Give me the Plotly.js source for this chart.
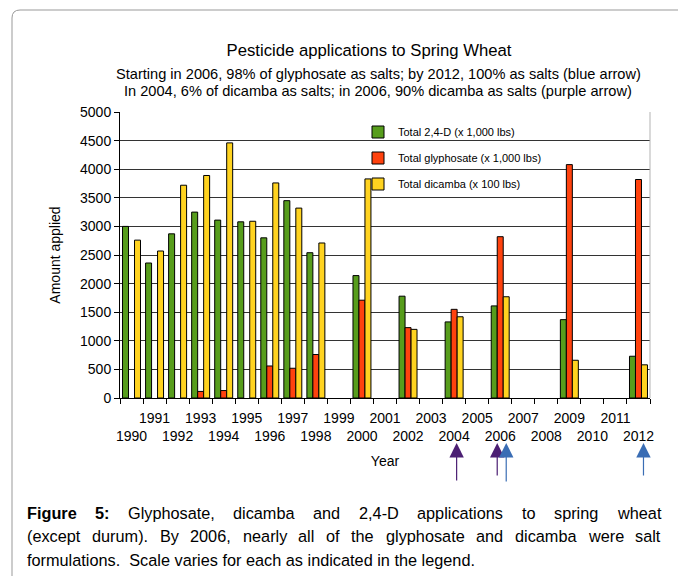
<!DOCTYPE html>
<html>
<head>
<meta charset="utf-8">
<script src="https://cdn.plot.ly/plotly-3.0.1.min.js"></script>
<style>
  html, body { margin: 0; padding: 0; background: #fff; }
  #chart { width: 678px; height: 576px; }
</style>
</head>
<body>
<div id="chart"></div>
<script>
// ---- data ----
const years = ['1990','1991','1992','1993','1994','1995','1996','1997','1998','1999','2000','2001',
               '2002','2003','2004','2005','2006','2007','2008','2009','2010','2011','2012'];
const total24D = [3000,2360,2870,3250,3110,3080,2800,3450,2540,null,2140,null,
                  1780,null,1330,null,1610,null,null,1370,null,null,730];
const totalGlyphosate = [null,null,null,115,130,null,560,520,760,null,1710,null,
                         1230,null,1550,null,2820,null,null,4080,null,null,3820];
const totalDicamba = [2760,2570,3720,3890,4460,3090,3760,3320,2710,null,3830,null,
                      1200,null,1420,null,1770,null,null,660,null,null,580];
const seriesNames = ['Total 2,4-D (x 1,000 lbs)', 'Total glyphosate (x 1,000 lbs)', 'Total dicamba (x 100 lbs)'];
const tickLabels = years.map(y => (parseInt(y) % 2 === 0) ? '<br>' + y : y);

const titleText = 'Pesticide applications to Spring Wheat';
const subtitle1 = 'Starting in 2006, 98% of glyphosate as salts; by 2012, 100% as salts (blue arrow)';
const subtitle2 = 'In 2004, 6% of dicamba as salts; in 2006, 90% dicamba as salts (purple arrow)';
const captionLine1 = [['Figure', true], ['5:', true], ['Glyphosate,', false], ['dicamba', false], ['and', false],
                      ['2,4-D', false], ['applications', false], ['to', false], ['spring', false], ['wheat', false]];
const captionLine2 = '(except durum).  By 2006, nearly all of the glyphosate and dicamba were salt';
const captionLine3 = 'formulations.  Scale varies for each as indicated in the legend.';

// ---- geometry ----
const W = 678, H = 576;
const M = {l: 120, r: 28, t: 112, b: 178};
const PW = W - M.l - M.r, PH = H - M.t - M.b;
const px = x => (x - M.l) / PW;
const py = y => (H - M.b - y) / PH;
const FONT = '"Liberation Sans", Arial, sans-serif';
const catIndex = y => years.indexOf(y);

const colors = ['#579d1c', '#ff420e', '#ffd320'];
const vals = [total24D, totalGlyphosate, totalDicamba];
const traces = vals.map((v, i) => ({
  type: 'bar', x: years, y: v, name: seriesNames[i],
  legendgroup: 'g' + i,
  marker: {color: colors[i], line: {color: '#000', width: 1}},
  hoverinfo: 'x+y'
}));

// caption layout with justification (measure words)
const cv = document.createElement('canvas').getContext('2d');
const CAP_SIZE = 16.3;
function measure(t, bold) {
  cv.font = (bold ? 'bold ' : '') + CAP_SIZE + 'px "Liberation Sans"';
  return cv.measureText(t).width;
}
const annotations = [];
function justify(words, yPix, right) {
  const left = 27;
  const widths = words.map(w => measure(w[0], w[1]));
  const sum = widths.reduce((a, b) => a + b, 0);
  const gap = (right - left - sum) / (words.length - 1);
  let x = left;
  words.forEach((w, i) => {
    annotations.push({
      xref: 'paper', yref: 'paper', x: px(x), y: py(yPix), xanchor: 'left', yanchor: 'middle',
      text: w[1] ? '<b>' + w[0] + '</b>' : w[0], showarrow: false, borderpad: 0, borderwidth: 0,
      font: {size: CAP_SIZE, color: '#000', family: FONT}
    });
    x += widths[i] + gap;
  });
}
justify(captionLine1, 512.5, 660);
justify(captionLine2.split(/\s+/).map(w => [w, false]), 536, 660);
annotations.push({
  xref: 'paper', yref: 'paper', x: px(27), y: py(559.5), xanchor: 'left', yanchor: 'middle',
  text: captionLine3.replace(/  /g, '&nbsp; '), showarrow: false, borderpad: 0, borderwidth: 0,
  font: {size: CAP_SIZE, color: '#000', family: FONT}
});

// subtitles
[[subtitle1, 73.5], [subtitle2, 91]].forEach(s => {
  annotations.push({
    xref: 'paper', yref: 'paper', x: px(378), y: py(s[1]), xanchor: 'center', yanchor: 'middle',
    text: s[0], showarrow: false, font: {size: 14.6, color: '#000', family: FONT}
  });
});

// arrows under the x axis
const PURPLE = '#4b1f73', BLUE = '#3a6db4';
const arrows = [
  {year: '2004', shift: 2.5, tail: 482, color: PURPLE},
  {year: '2006', shift: -3, tail: 477, color: PURPLE},
  {year: '2006', shift: 6, tail: 483, color: BLUE},
  {year: '2012', shift: 5, tail: 477, color: BLUE}
];
arrows.forEach(a => {
  annotations.push({
    xref: 'x', yref: 'paper', x: catIndex(a.year), y: py(443), xshift: a.shift,
    ax: 0, ay: a.tail - 443, text: '', showarrow: true,
    arrowhead: 2, arrowsize: 2.4, arrowwidth: 1.2, arrowcolor: a.color, standoff: 0
  });
});

const shapes = [
  // outer frame (left + top, rounded corner)
  {type: 'path', xref: 'paper', yref: 'paper', layer: 'below',
   path: `M ${px(12)} ${py(576)} L ${px(12)} ${py(18)} Q ${px(12)} ${py(10)} ${px(20)} ${py(10)} L ${px(678)} ${py(10)}`,
   line: {color: '#999', width: 1}},
  // right edge of plot area
  {type: 'line', xref: 'paper', yref: 'paper', x0: 1, x1: 1, y0: 0, y1: 1,
   line: {color: '#b3b3b3', width: 1}, layer: 'above'}
];

const layout = {
  width: W, height: H,
  margin: M,
  paper_bgcolor: '#fff', plot_bgcolor: '#fff',
  font: {family: FONT, color: '#000', size: 14},
  title: {text: titleText, font: {size: 16.7, family: FONT, color: '#000'},
          xref: 'paper', x: px(369), xanchor: 'center', y: 1 - 50 / H, yanchor: 'middle'},
  barmode: 'group', bargap: 0.22, bargroupgap: 0,
  showlegend: true,
  legend: {x: px(358), xanchor: 'left', y: py(117.5), yanchor: 'top',
           bgcolor: 'rgba(0,0,0,0)', borderwidth: 0, font: {size: 11, family: FONT},
           traceorder: 'grouped', tracegroupgap: 7},
  xaxis: {
    type: 'category', categoryorder: 'array', categoryarray: years,
    autorange: false, range: [-0.5, years.length - 0.5],
    tickmode: 'array', tickvals: years.map((y, i) => i), ticktext: tickLabels,
    tickson: 'boundaries', ticks: 'outside', ticklen: 5, tickcolor: '#000', tickwidth: 1,
    ticklabelstandoff: 7,
    showline: true, linecolor: '#000', linewidth: 1, showgrid: false,
    tickfont: {size: 14}, tickangle: 0,
    title: {text: 'Year', font: {size: 14}, standoff: 13}
  },
  yaxis: {
    range: [0, 5000], autorange: false, dtick: 500, tick0: 0,
    ticks: 'outside', ticklen: 5, tickcolor: '#000', tickwidth: 1,
    showline: true, linecolor: '#000', linewidth: 1,
    showgrid: true, gridcolor: '#333', gridwidth: 1, zeroline: false,
    tickfont: {size: 14},
    title: {text: 'Amount applied', font: {size: 14}, standoff: 16}
  },
  annotations: annotations,
  shapes: shapes
};

Plotly.newPlot('chart', traces, layout, {displayModeBar: false, staticPlot: true});
</script>
</body>
</html>
